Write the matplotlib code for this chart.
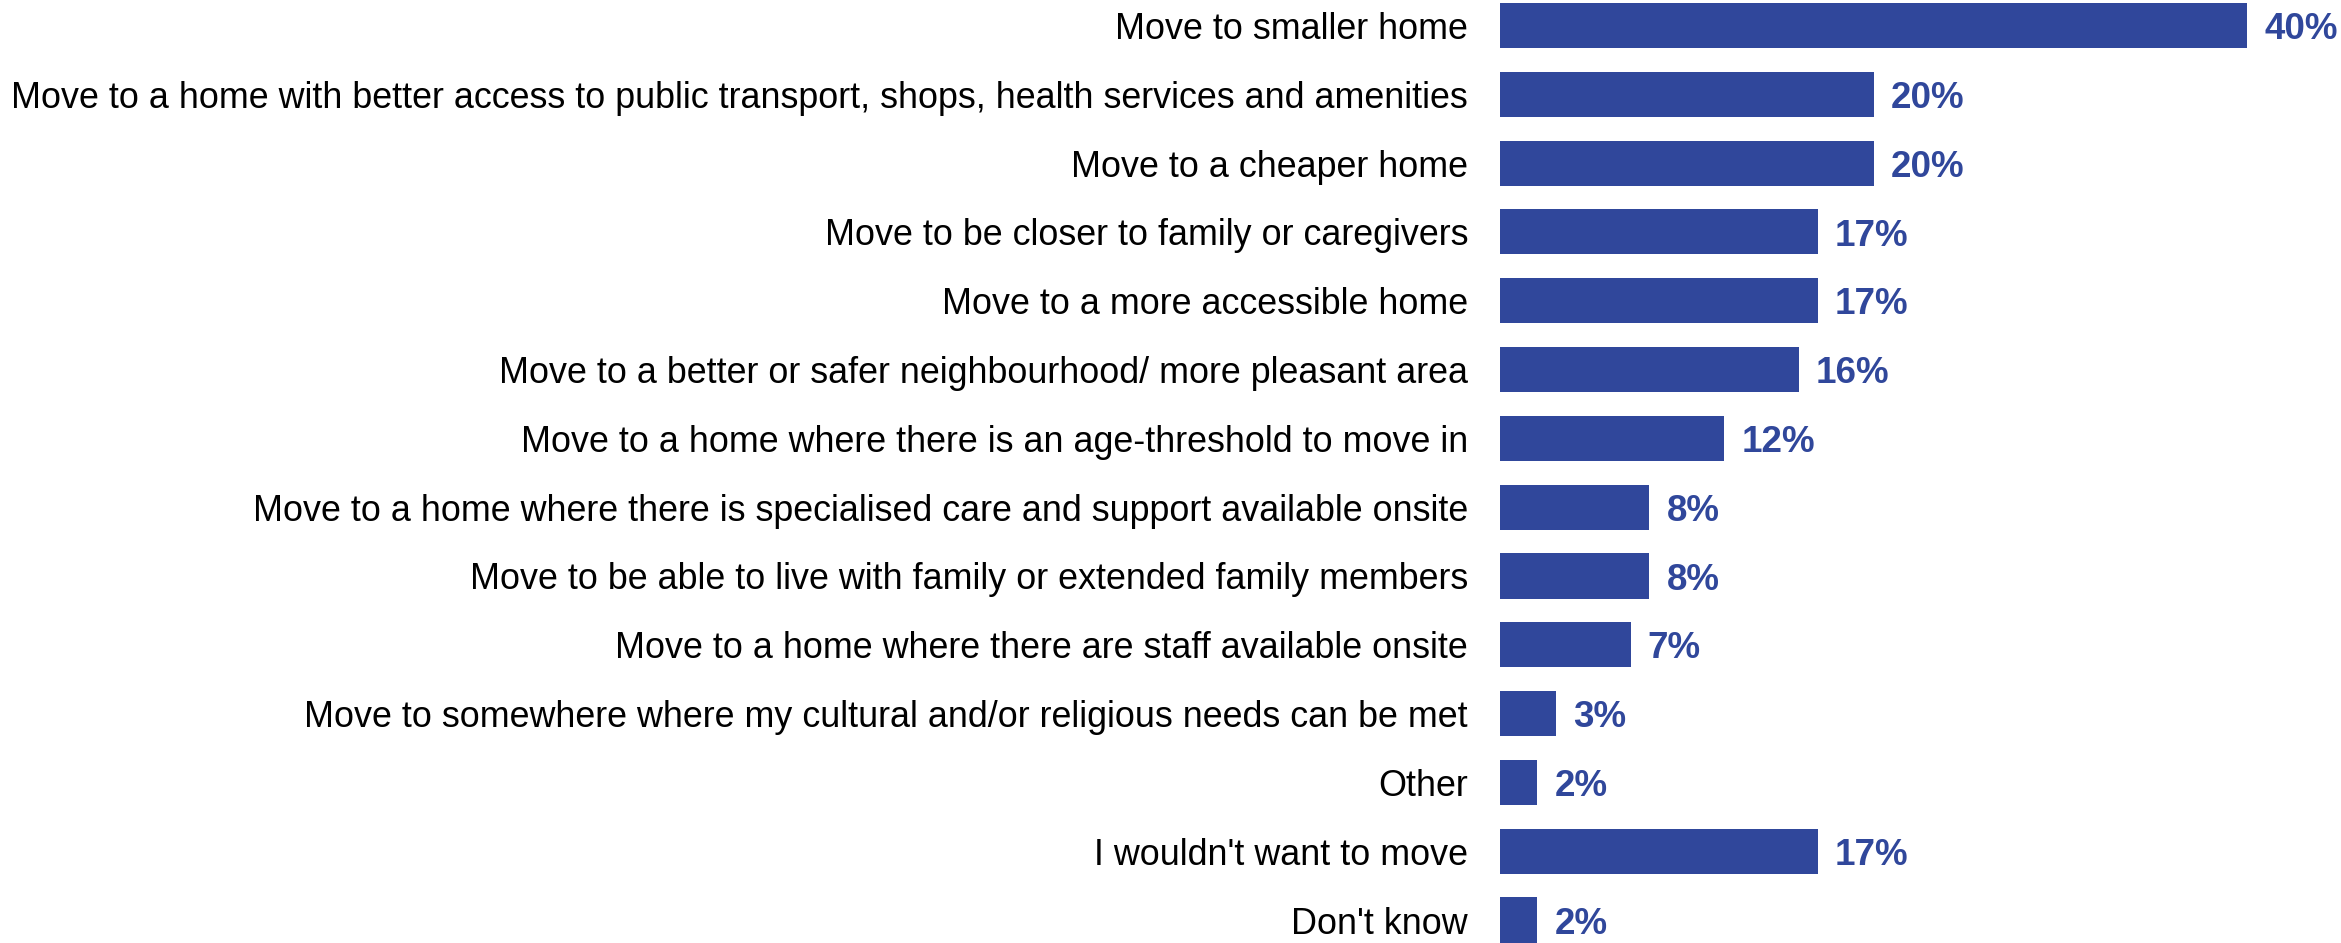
import matplotlib.pyplot as plt

categories = [
    "Move to smaller home",
    "Move to a home with better access to public transport, shops, health services and amenities",
    "Move to a cheaper home",
    "Move to be closer to family or caregivers",
    "Move to a more accessible home",
    "Move to a better or safer neighbourhood/ more pleasant area",
    "Move to a home where there is an age-threshold to move in",
    "Move to a home where there is specialised care and support available onsite",
    "Move to be able to live with family or extended family members",
    "Move to a home where there are staff available onsite",
    "Move to somewhere where my cultural and/or religious needs can be met",
    "Other",
    "I wouldn't want to move",
    "Don't know",
]
values = [40, 20, 20, 17, 17, 16, 12, 8, 8, 7, 3, 2, 17, 2]

bar_color = "#30479B"
plt.rcParams['font.family'] = ['Liberation Sans', 'DejaVu Sans']

W, H = 2341, 943
fig = plt.figure(figsize=(W / 100, H / 100), dpi=100)
x0 = 1500
ax = fig.add_axes([x0 / W, 0, 1 - x0 / W, 1])

ypos = list(range(len(categories)))
ax.barh(ypos, values, height=0.655, color=bar_color)

px_per_pct = 18.68
ax.set_xlim(0, (W - x0) / px_per_pct)
ax.set_ylim(13.334, -0.371)

ax.set_yticks(ypos)
ax.set_yticklabels(categories, fontsize=25.8, color="black")
ax.tick_params(axis='y', length=0, pad=23)
ax.set_xticks([])
for s in ax.spines.values():
    s.set_visible(False)

for y, v in zip(ypos, values):
    ax.text(v + 17 / px_per_pct, y + 0.06, f"{v}%", va='center', ha='left',
            fontsize=26.5, fontweight='bold', color=bar_color)

fig.savefig("out.png", dpi=100)
